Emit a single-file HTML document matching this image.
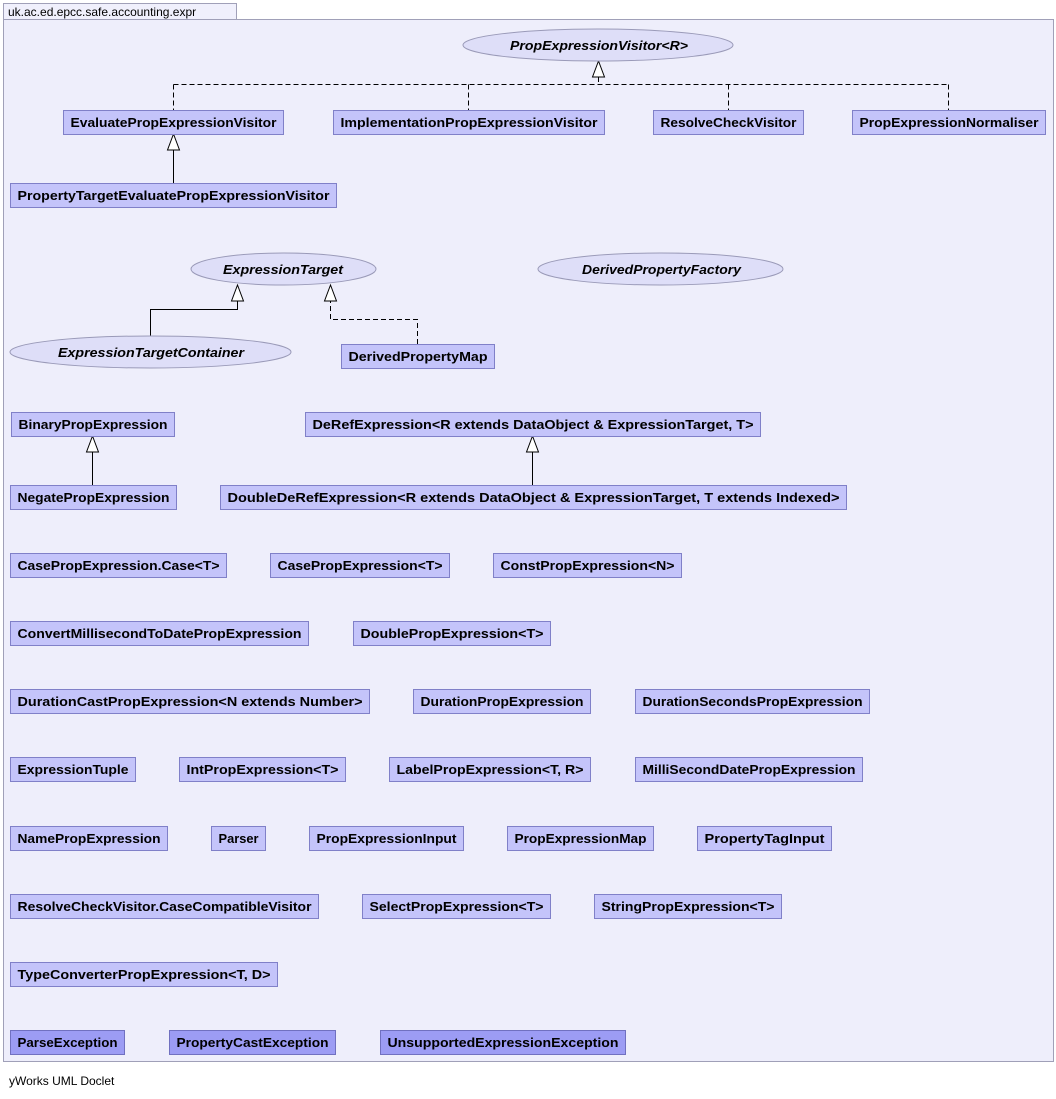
<!DOCTYPE html>
<html><head><meta charset="utf-8"><style>
html,body{margin:0;padding:0;background:#fff;width:1056px;height:1099px;overflow:hidden}
text{font-family:"Liberation Sans",Arial,sans-serif;font-size:13px;font-weight:bold;fill:#000}
.b{fill:#c4c4fa;stroke:#8080c8;stroke-width:1}
.x{fill:#9c9cf4;stroke:#7070c0;stroke-width:1}
.e{fill:#dedef8;stroke:#9a9ab8;stroke-width:1}
.l{stroke:#000;stroke-width:1;fill:none}
.d{stroke:#000;stroke-width:1;fill:none;stroke-dasharray:5,3}
.a{fill:#fff;stroke:#000;stroke-width:1}
.i{font-style:italic}
</style></head><body>
<svg width="1056" height="1099" xmlns="http://www.w3.org/2000/svg">
<rect x="3.5" y="3.5" width="233" height="16" fill="#f0f0fc" stroke="#a0a0b8"/>
<text x="8" y="16" style="font-weight:normal;font-size:12px">uk.ac.ed.epcc.safe.accounting.expr</text>
<rect x="3.5" y="19.5" width="1050" height="1042" fill="#eeeefb" stroke="#a0a0b8"/>

<path class="d" d="M598.5 77V84.5M173.5 84.5H948.5M173.5 84.5V110M468.5 84.5V110M728.5 84.5V110M948.5 84.5V110"/>
<polygon class="a" points="598.5,61 592.5,77 604.5,77"/>
<path class="l" d="M173.5 150V183"/><polygon class="a" points="173.5,134 167.5,150 179.5,150"/>
<path class="l" d="M150.5 336V309.5H237.5V301"/><polygon class="a" points="237.5,285 231.5,301 243.5,301"/>
<path class="d" d="M417.5 344V319.5H330.5V301"/><polygon class="a" points="330.5,285 324.5,301 336.5,301"/>
<path class="l" d="M92.5 452V485"/><polygon class="a" points="92.5,436 86.5,452 98.5,452"/>
<path class="l" d="M532.5 452V485"/><polygon class="a" points="532.5,436 526.5,452 538.5,452"/>

<ellipse class="e" cx="598" cy="45" rx="135" ry="16"/><text class="i" x="510" y="50" textLength="178" lengthAdjust="spacingAndGlyphs">PropExpressionVisitor&lt;R&gt;</text>
<ellipse class="e" cx="283.5" cy="269" rx="92.5" ry="16"/><text class="i" x="223" y="274" textLength="120" lengthAdjust="spacingAndGlyphs">ExpressionTarget</text>
<ellipse class="e" cx="660.5" cy="269" rx="122.5" ry="16"/><text class="i" x="582" y="274" textLength="159" lengthAdjust="spacingAndGlyphs">DerivedPropertyFactory</text>
<ellipse class="e" cx="150.5" cy="352" rx="140.5" ry="16"/><text class="i" x="58" y="357" textLength="186" lengthAdjust="spacingAndGlyphs">ExpressionTargetContainer</text>

<g id="boxes"></g>
</svg>
<script>
var B=[
[63,283,110,"EvaluatePropExpressionVisitor"],[333,604,110,"ImplementationPropExpressionVisitor"],[653,803,110,"ResolveCheckVisitor"],[852,1045,110,"PropExpressionNormaliser"],
[10,336,183,"PropertyTargetEvaluatePropExpressionVisitor"],[341,494,344,"DerivedPropertyMap"],
[11,174,412,"BinaryPropExpression"],[305,760,412,"DeRefExpression<R extends DataObject & ExpressionTarget, T>"],
[10,176,485,"NegatePropExpression"],[220,846,485,"DoubleDeRefExpression<R extends DataObject & ExpressionTarget, T extends Indexed>"],
[10,226,553,"CasePropExpression.Case<T>"],[270,449,553,"CasePropExpression<T>"],[493,681,553,"ConstPropExpression<N>"],
[10,308,621,"ConvertMillisecondToDatePropExpression"],[353,550,621,"DoublePropExpression<T>"],
[10,369,689,"DurationCastPropExpression<N extends Number>"],[413,590,689,"DurationPropExpression"],[635,869,689,"DurationSecondsPropExpression"],
[10,135,757,"ExpressionTuple"],[179,345,757,"IntPropExpression<T>"],[389,590,757,"LabelPropExpression<T, R>"],[635,862,757,"MilliSecondDatePropExpression"],
[10,167,826,"NamePropExpression"],[211,265,826,"Parser"],[309,463,826,"PropExpressionInput"],[507,653,826,"PropExpressionMap"],[697,831,826,"PropertyTagInput"],
[10,318,894,"ResolveCheckVisitor.CaseCompatibleVisitor"],[362,550,894,"SelectPropExpression<T>"],[594,781,894,"StringPropExpression<T>"],
[10,277,962,"TypeConverterPropExpression<T, D>"],
[10,124,1030,"ParseException",1],[169,335,1030,"PropertyCastException",1],[380,625,1030,"UnsupportedExpressionException",1]];
var g=document.getElementById("boxes"),ns="http://www.w3.org/2000/svg";
B.forEach(function(b){var r=document.createElementNS(ns,"rect");r.setAttribute("x",b[0]+.5);r.setAttribute("y",b[2]+.5);r.setAttribute("width",b[1]-b[0]);r.setAttribute("height",24);r.setAttribute("class",b[4]?"x":"b");g.appendChild(r);
var t=document.createElementNS(ns,"text");t.setAttribute("x",b[0]+7.5);t.setAttribute("y",b[2]+17);t.setAttribute("textLength",b[1]-b[0]-14);t.setAttribute("lengthAdjust","spacingAndGlyphs");t.textContent=b[3];g.appendChild(t);});
</script>
<div style="position:absolute;left:9px;top:1074px;font-family:'Liberation Sans',Arial,sans-serif;font-size:12px">yWorks UML Doclet</div>
</body></html>
